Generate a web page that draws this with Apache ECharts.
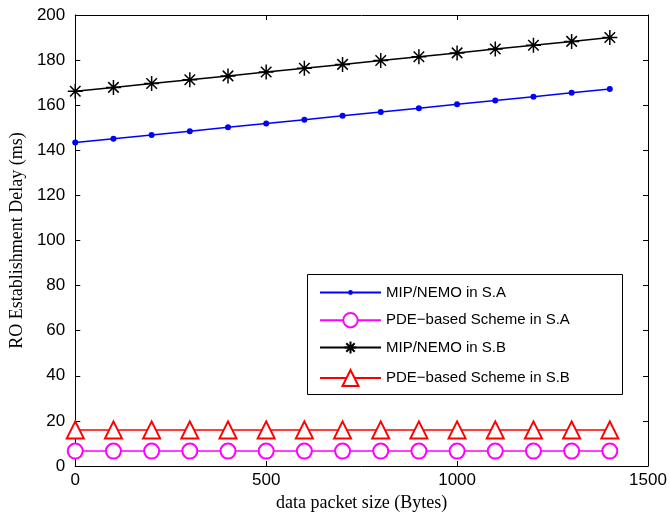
<!DOCTYPE html>
<html>
<head>
<meta charset="utf-8">
<script src="https://cdn.jsdelivr.net/npm/echarts@6/dist/echarts.min.js"></script>
<style>
  html, body { margin: 0; padding: 0; background: #fff; }
</style>
</head>
<body>
<div id="main" style="width:670px;height:520px"></div>
<script>
const packetSize = [0, 100, 200, 300, 400, 500, 600, 700, 800, 900, 1000, 1100, 1200, 1300, 1400]
const mipSA = [143.5, 145.1, 146.8, 148.5, 150.2, 151.9, 153.6, 155.3, 157.0, 158.7, 160.4, 162.1, 163.8, 165.5, 167.2]
const pdeSA = [6.6, 6.6, 6.6, 6.6, 6.6, 6.6, 6.6, 6.6, 6.6, 6.6, 6.6, 6.6, 6.6, 6.6, 6.6]
const mipSB = [166.2, 167.9, 169.6, 171.3, 173.0, 174.7, 176.4, 178.1, 179.8, 181.5, 183.2, 184.9, 186.6, 188.3, 190.0]
const pdeSB = [16, 16, 16, 16, 16, 16, 16, 16, 16, 16, 16, 16, 16, 16, 16]
const names = ['MIP/NEMO in S.A', 'PDE\u2212based Scheme in S.A', 'MIP/NEMO in S.B', 'PDE\u2212based Scheme in S.B']

const pairs = (ys) => packetSize.map((x, i) => [x, ys[i]])
const asterisk = 'path://M0,-10L0,10M-10,0L10,0M-7,-7L7,7M-7,7L7,-7'

const frameAxis = {
  axisLine: { show: true, onZero: false, lineStyle: { color: '#000', width: 1 } },
  axisTick: { show: true, inside: true, length: 5, lineStyle: { color: '#000' } },
  axisLabel: { show: false },
  splitLine: { show: false },
}

// one legend per entry so each marker keeps its own size
const legendTops = [285, 312, 340, 369]
const legendSizes = [6, 18, 15, 20]
const legends = names.map((n, i) => ({
  orient: 'vertical',
  left: 319,
  top: legendTops[i],
  padding: 0,
  itemWidth: 61,
  itemHeight: legendSizes[i],
  textStyle: { fontFamily: 'Liberation Sans, Arial', fontSize: 15, color: '#000' },
  data: [n],
}))

const chart = echarts.init(document.getElementById('main'))
const option = {
  animation: false,
  backgroundColor: '#fff',
  grid: { left: 75, right: 22, top: 15, bottom: 54 },
  graphic: [
    {
      type: 'rect',
      z: 3,
      shape: { x: 307.5, y: 274.5, width: 315, height: 120 },
      style: { fill: '#fff', stroke: '#000', lineWidth: 1 },
    },
  ],
  legend: legends,
  xAxis: [
    {
      type: 'value',
      min: 0,
      max: 1500,
      interval: 500,
      name: 'data packet size (Bytes)',
      nameLocation: 'middle',
      nameGap: 27,
      nameTextStyle: { fontFamily: 'Liberation Serif, Times New Roman', fontSize: 18, color: '#000' },
      axisLine: { show: true, onZero: false, lineStyle: { color: '#000', width: 1 } },
      axisTick: { show: true, inside: true, length: 5, lineStyle: { color: '#000' } },
      axisLabel: { fontFamily: 'Liberation Sans, Arial', fontSize: 17, color: '#000', margin: 6, formatter: (v) => String(v) },
      splitLine: { show: false },
    },
    Object.assign({ type: 'value', position: 'top', min: 0, max: 1500, interval: 500 }, frameAxis),
  ],
  yAxis: [
    {
      type: 'value',
      min: 0,
      max: 200,
      interval: 20,
      name: 'RO Establishment Delay (ms)',
      nameLocation: 'middle',
      nameGap: 42,
      nameTextStyle: { fontFamily: 'Liberation Serif, Times New Roman', fontSize: 18, color: '#000' },
      axisLine: { show: true, onZero: false, lineStyle: { color: '#000', width: 1 } },
      axisTick: { show: true, inside: true, length: 5, lineStyle: { color: '#000' } },
      axisLabel: { fontFamily: 'Liberation Sans, Arial', fontSize: 17, color: '#000', margin: 10 },
      splitLine: { show: false },
    },
    Object.assign({ type: 'value', position: 'right', min: 0, max: 200, interval: 20 }, frameAxis),
  ],
  series: [
    {
      name: names[0],
      type: 'line',
      data: pairs(mipSA),
      symbol: 'circle',
      symbolSize: 6,
      lineStyle: { color: '#0000ff', width: 1.5 },
      itemStyle: { color: '#0000ff' },
    },
    {
      name: names[1],
      type: 'line',
      data: pairs(pdeSA),
      symbol: 'emptyCircle',
      symbolSize: 15,
      lineStyle: { color: '#ff00ff', width: 1.5 },
      itemStyle: { color: '#ff00ff', borderColor: '#ff00ff', borderWidth: 1.5 },
    },
    {
      name: names[2],
      type: 'line',
      data: pairs(mipSB),
      symbol: asterisk,
      symbolSize: 15,
      lineStyle: { color: '#000', width: 1.5 },
      itemStyle: { color: '#000', borderColor: '#000', borderWidth: 1.5 },
    },
    {
      name: names[3],
      type: 'line',
      data: pairs(pdeSB),
      symbol: 'emptyTriangle',
      symbolSize: 17,
      lineStyle: { color: '#ff0000', width: 1.5 },
      itemStyle: { color: '#ff0000', borderColor: '#ff0000', borderWidth: 1.5 },
    },
  ],
}
chart.setOption(option)
</script>
</body>
</html>
